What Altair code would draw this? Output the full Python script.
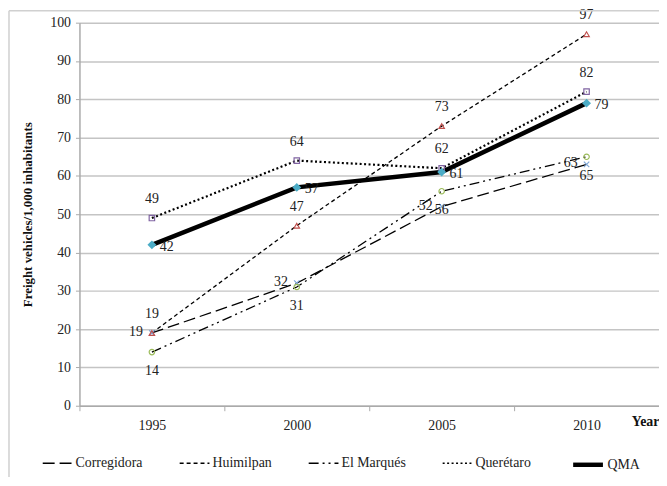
import altair as alt
import pandas as pd

years = ["1995", "2000", "2005", "2010"]
series = ["Corregidora", "Huimilpan", "El Marqués", "Querétaro", "QMA"]
corregidora = [19, 32, 52, 63]
huimilpan = [19, 47, 73, 97]
el_marques = [14, 31, 56, 65]
queretaro = [49, 64, 62, 82]
qma = [42, 57, 61, 79]
label_side = ["left", "above", "below", "above", "right"]

marker_colors = ["#7ea6d6", "#c0504d", "#9bbb59", "#8064a2", "#4bacc6"]
marker_shapes = ["M-1,-1L1,1M-1,1L1,-1", "triangle-up", "circle", "square", "diamond"]
marker_filled = [False, False, False, False, True]
marker_sizes = [30, 30, 30, 30, 80]
dashes = [[12, 5], [4, 3], [10, 4, 2, 4, 2, 4], [2, 2.5]]
widths = [1.3, 1.3, 1.3, 2.2, 4.5]

values = [corregidora, huimilpan, el_marques, queretaro, qma]
rows = []
for s, vals, side in zip(series, values, label_side):
    for y, v in zip(years, vals):
        rows.append({"series": s, "year": y, "value": v, "side": side})
df = pd.DataFrame(rows)

W, H = 584, 386
FONT = "Liberation Serif"

x_enc = alt.X(
    "year:O",
    scale=alt.Scale(type="band", paddingInner=0, paddingOuter=0),
    axis=alt.Axis(
        title="Year", titleFont=FONT, titleFontSize=14, titleFontWeight="bold",
        titleColor="#111", titleX=556, titleY=16, titleAlign="left",
        titleBaseline="middle", titleAngle=0,
        labelFont=FONT, labelFontSize=14, labelColor="#222", labelAngle=0,
        labelPadding=8, tickBand="extent", tickColor="#aaaaaa", tickSize=5,
        domainColor="#aaaaaa", domainWidth=1.5, grid=False,
    ),
)
y_enc = alt.Y(
    "value:Q",
    scale=alt.Scale(domain=[0, 100], nice=False),
    axis=alt.Axis(
        title="Freight vehicles/1,000 inhabitants", titleFont=FONT,
        titleFontSize=13, titleFontWeight="bold", titleColor="#111",
        titleX=-52, titleY=H / 2, titleBaseline="middle",
        values=list(range(0, 101, 10)),
        labelFont=FONT, labelFontSize=14, labelColor="#222", labelPadding=5,
        tickColor="#aaaaaa", tickSize=4, domainColor="#aaaaaa", domainWidth=1.5,
        grid=True, gridColor="#c4c4c4", gridWidth=1.5,
    ),
)

legend_common = dict(
    title=None, orient="none", legendY=428, direction="horizontal",
    symbolType="stroke", symbolSize=900, symbolStrokeColor="black",
    labelFont=FONT, labelFontSize=14, labelColor="#222", labelOffset=2,
)

dash_enc = alt.StrokeDash(
    "series:N",
    scale=alt.Scale(domain=series[:4], range=dashes),
    legend=alt.Legend(legendX=-38, columns=4, columnPadding=34, symbolStrokeWidth=1.4, **legend_common),
)
qma_width_enc = alt.StrokeWidth(
    "series:N",
    scale=alt.Scale(domain=series[4:], range=[widths[4], widths[4]]),
    legend=alt.Legend(legendX=495, **legend_common),
)

line_layers = []
for s, w in zip(series[:4], widths[:4]):
    line_layers.append(
        alt.Chart(df).transform_filter(alt.datum.series == s)
        .mark_line(color="black", strokeWidth=w)
        .encode(x=x_enc, y=y_enc, strokeDash=dash_enc)
    )
line_layers.append(
    alt.Chart(df).transform_filter(alt.datum.series == series[4])
    .mark_line(color="black")
    .encode(x=x_enc, y=y_enc, strokeWidth=qma_width_enc)
)

point_layers = []
for s, col, shp, fil, sz in zip(series, marker_colors, marker_shapes, marker_filled, marker_sizes):
    point_layers.append(
        alt.Chart(df).transform_filter(alt.datum.series == s).mark_point(
            filled=fil, shape=shp, size=sz, color=col, strokeWidth=1.2, opacity=1
        ).encode(x=x_enc, y=y_enc)
    )

def labels(side, **kw):
    return alt.Chart(df).transform_filter(alt.datum.side == side).mark_text(
        font=FONT, fontSize=14, color="#222", **kw
    ).encode(x=x_enc, y=y_enc, text="value:Q")

lab_above = labels("above", dy=-19, align="center")
lab_below = labels("below", dy=19, align="center")
lab_left = labels("left", dx=-9, dy=-1, align="right")
lab_right = labels("right", dx=8, dy=2, align="left")

frame_df = pd.DataFrame({"a": [0]})
frame_left = alt.Chart(frame_df).mark_rule(color="#d0d0d0", strokeWidth=1.5).encode(
    x=alt.value(-71), y=alt.value(-12), y2=alt.value(H + 75)
)
frame_top = alt.Chart(frame_df).mark_rule(color="#d0d0d0", strokeWidth=1.5).encode(
    x=alt.value(-71), x2=alt.value(W + 10), y=alt.value(-12)
)

chart = alt.layer(
    *line_layers, *point_layers,
    lab_above, lab_below, lab_left, lab_right,
    frame_left, frame_top,
).properties(
    width=W, height=H,
    autosize=alt.AutoSizeParams(type="none"),
    padding={"left": 72, "top": 13, "right": 0, "bottom": 70},
).configure_view(strokeOpacity=0)

chart.save("out.html", embed_options={"renderer": "svg", "actions": False})
